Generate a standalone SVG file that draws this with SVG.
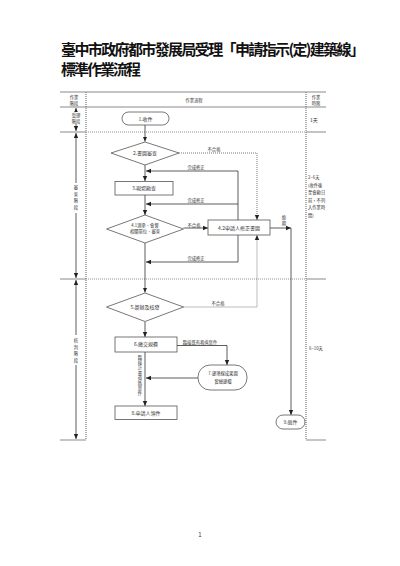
<svg xmlns="http://www.w3.org/2000/svg" width="400" height="566" viewBox="0 0 400 566">
<defs>
<marker id="ah" markerWidth="6" markerHeight="6" refX="5" refY="3" orient="auto" markerUnits="userSpaceOnUse" viewBox="0 0 6 6"><path d="M0,0.8 L5,3 L0,5.2 Z" fill="#222"/></marker>
<marker id="ahs" markerWidth="6" markerHeight="6" refX="1" refY="3" orient="auto" markerUnits="userSpaceOnUse" viewBox="0 0 6 6"><path d="M6,0.8 L1,3 L6,5.2 Z" fill="#222"/></marker>
<style>
.tbl{stroke:#8a8a8a;stroke-width:1;fill:none}
.dotv{stroke:#7a7a7a;stroke-width:1.2;stroke-dasharray:1 1;fill:none}
.doth{stroke:#7a7a7a;stroke-width:0.8;stroke-dasharray:1 1;fill:none}
.ln{stroke:#333;stroke-width:0.8;fill:none}
.dl{stroke:#555;stroke-width:0.8;stroke-dasharray:1 1;fill:none}
.box{fill:#fff;stroke:#555;stroke-width:0.8}
.t{font-family:"Noto Sans CJK TC","Noto Sans CJK SC",sans-serif;font-size:5px;fill:#333;text-anchor:middle}
.s{font-size:4.3px}
.r{text-anchor:start}
.title{font-family:"Noto Sans CJK TC","Noto Sans CJK SC",sans-serif;font-size:15px;font-weight:700;fill:#111}
</style>
</defs>
<rect width="400" height="566" fill="#fff"/>
<g id="title">
<text class="title" x="61" y="55" textLength="304">臺中市政府都市發展局受理「申請指示(定)建築線」</text>
<text class="title" x="61" y="75" textLength="80">標準作業流程</text>
</g>
<g id="table">
<line class="tbl" x1="60" y1="92" x2="326" y2="92"/>
<line class="tbl" x1="60" y1="107" x2="326" y2="107"/>
<line class="dotv" x1="86" y1="92" x2="86" y2="440"/>
<line class="dotv" x1="306" y1="92" x2="306" y2="440"/>
<line class="tbl" x1="60" y1="132" x2="86" y2="132"/>
<line class="doth" x1="86" y1="132" x2="306" y2="132"/>
<line class="tbl" x1="306" y1="132" x2="326" y2="132"/>
<line class="tbl" x1="60" y1="279" x2="86" y2="279"/>
<line class="doth" x1="86" y1="279" x2="306" y2="279"/>
<line class="tbl" x1="306" y1="279" x2="326" y2="279"/>
<line class="tbl" x1="60" y1="440" x2="86" y2="440"/>
<line class="tbl" x1="306" y1="440" x2="326" y2="440"/>
<text class="t s" x="74" y="99">作業</text>
<text class="t s" x="74" y="104.5">階段</text>
<text class="t s" x="194" y="101.5">作業流程</text>
<text class="t s" x="316" y="99">作業</text>
<text class="t s" x="316" y="104.5">時限</text>
<text class="t r" x="310" y="121.5">1天</text>
<text class="t s r" x="308" y="178.5">2~6天</text>
<text class="t s r" x="308" y="186.5">(收件後</text>
<text class="t s r" x="308" y="194">至會勘日</text>
<text class="t s r" x="308" y="201.5">前，不列</text>
<text class="t s r" x="308" y="209">入作業時</text>
<text class="t s r" x="308" y="216.5">間)</text>
<text class="t s r" x="309" y="350">6~10天</text>
</g>
<g id="stages">
<line class="ln" x1="76" y1="108" x2="76" y2="131" marker-start="url(#ahs)" marker-end="url(#ah)"/>
<rect x="70" y="112" width="12" height="12" fill="#fff"/>
<text class="t s" x="76" y="117">受理</text>
<text class="t s" x="76" y="122.5">階段</text>
<line class="ln" x1="76" y1="133" x2="76" y2="183" marker-start="url(#ahs)"/>
<line class="ln" x1="76" y1="213" x2="76" y2="278" marker-end="url(#ah)"/>
<text class="t s" x="76" y="189">審</text>
<text class="t s" x="76" y="195.5">查</text>
<text class="t s" x="76" y="202">階</text>
<text class="t s" x="76" y="208.5">段</text>
<line class="ln" x1="76" y1="280" x2="76" y2="335" marker-start="url(#ahs)"/>
<line class="ln" x1="76" y1="365" x2="76" y2="439" marker-end="url(#ah)"/>
<text class="t s" x="76" y="342">核</text>
<text class="t s" x="76" y="348.5">判</text>
<text class="t s" x="76" y="355">階</text>
<text class="t s" x="76" y="361.5">段</text>
</g>
<g id="connectors">
<line class="ln" x1="145" y1="125" x2="145" y2="141.5" marker-end="url(#ah)"/>
<line class="ln" x1="145" y1="165" x2="145" y2="181" marker-end="url(#ah)"/>
<line class="ln" x1="145" y1="195" x2="145" y2="215" marker-end="url(#ah)"/>
<line class="ln" x1="145" y1="243" x2="145" y2="292.5" marker-end="url(#ah)"/>
<line class="ln" x1="145" y1="322" x2="145" y2="337" marker-end="url(#ah)"/>
<line class="ln" x1="145" y1="352" x2="145" y2="406" marker-end="url(#ah)"/>
<polyline class="ln" points="238,220 238,171 146,171" marker-end="url(#ah)"/>
<line class="ln" x1="238" y1="204" x2="146" y2="204" marker-end="url(#ah)"/>
<polyline class="ln" points="238,235 238,262 146,262" marker-end="url(#ah)"/>
<line class="ln" x1="183.5" y1="228" x2="208" y2="228" marker-end="url(#ah)"/>
<line class="ln" x1="270" y1="228" x2="291" y2="228" marker-end="url(#ah)"/>
<line class="ln" x1="291" y1="228" x2="291" y2="415" marker-end="url(#ah)"/>
<polyline class="dl" points="179,153 257,153 257,220" marker-end="url(#ah)"/>
<polyline class="dl" points="183.5,307 257,307 257,235" marker-end="url(#ah)"/>
<polyline class="ln" points="177,345.5 227,345.5 227,365" marker-end="url(#ah)"/>
<line class="ln" x1="198" y1="378" x2="146" y2="378" marker-end="url(#ah)"/>
<text class="t s" x="214" y="151">不合格</text>
<text class="t s" x="196" y="169">完成修正</text>
<text class="t s" x="196" y="202">完成修正</text>
<text class="t s" x="196" y="260">完成修正</text>
<text class="t s" x="194" y="226.5">不合格</text>
<text class="t s" x="284" y="219">逾</text>
<text class="t s" x="284" y="225">期</text>
<text class="t s" x="218" y="305">不合格</text>
<text class="t s" x="200" y="343.5">臨接既有巷道案件</text>
<text class="t s" x="140" y="359">臨</text>
<text class="t s" x="140" y="364.2">接</text>
<text class="t s" x="140" y="369.4">計</text>
<text class="t s" x="140" y="374.6">畫</text>
<text class="t s" x="140" y="379.8">道</text>
<text class="t s" x="140" y="385">路</text>
<text class="t s" x="140" y="390.2">案</text>
<text class="t s" x="140" y="395.4">件</text>
</g>
<g id="n1"><rect class="box" x="122" y="112" width="47" height="13" rx="6.5"/><text class="t" x="145.5" y="120.5">1.收件</text></g>
<g id="n2"><polygon class="box" points="145,142 179,153 145,165 111,153"/><text class="t" x="145" y="155">2.書圖審查</text></g>
<g id="n3"><rect class="box" x="115" y="181.5" width="58" height="13.5"/><text class="t" x="144" y="190">3.現場勘查</text></g>
<g id="n41"><polygon class="box" points="145,215 183.5,229 145,243 106.5,229"/><text class="t s" x="145" y="227">4.1測參、會簽</text><text class="t s" x="145" y="233">相關單位、審查</text></g>
<g id="n42"><rect class="box" x="208" y="220" width="62" height="15"/><text class="t" x="239" y="229.5">4.2申請人修正書圖</text></g>
<g id="n5"><polygon class="box" points="145,293 183.5,307 145,321.5 106.5,307"/><text class="t" x="145" y="309">5.簽辦及核發</text></g>
<g id="n6"><rect class="box" x="115" y="337" width="62" height="15"/><text class="t" x="146" y="346">6.繳交規費</text></g>
<g id="n7"><rect class="box" x="198" y="365" width="49" height="25" rx="12"/><text class="t s" x="223" y="375">7.建築線成果圖</text><text class="t s" x="223" y="382.5">套繪建檔</text></g>
<g id="n8"><rect class="box" x="115" y="406" width="62" height="13.5"/><text class="t" x="146" y="414.5">8.申請人領件</text></g>
<g id="n9"><rect class="box" x="276" y="415" width="29" height="14" rx="7"/><text class="t" x="290.5" y="423.8">9.退件</text></g>
<text class="t" x="200" y="537" style="font-size:6px">1</text>
</svg>
